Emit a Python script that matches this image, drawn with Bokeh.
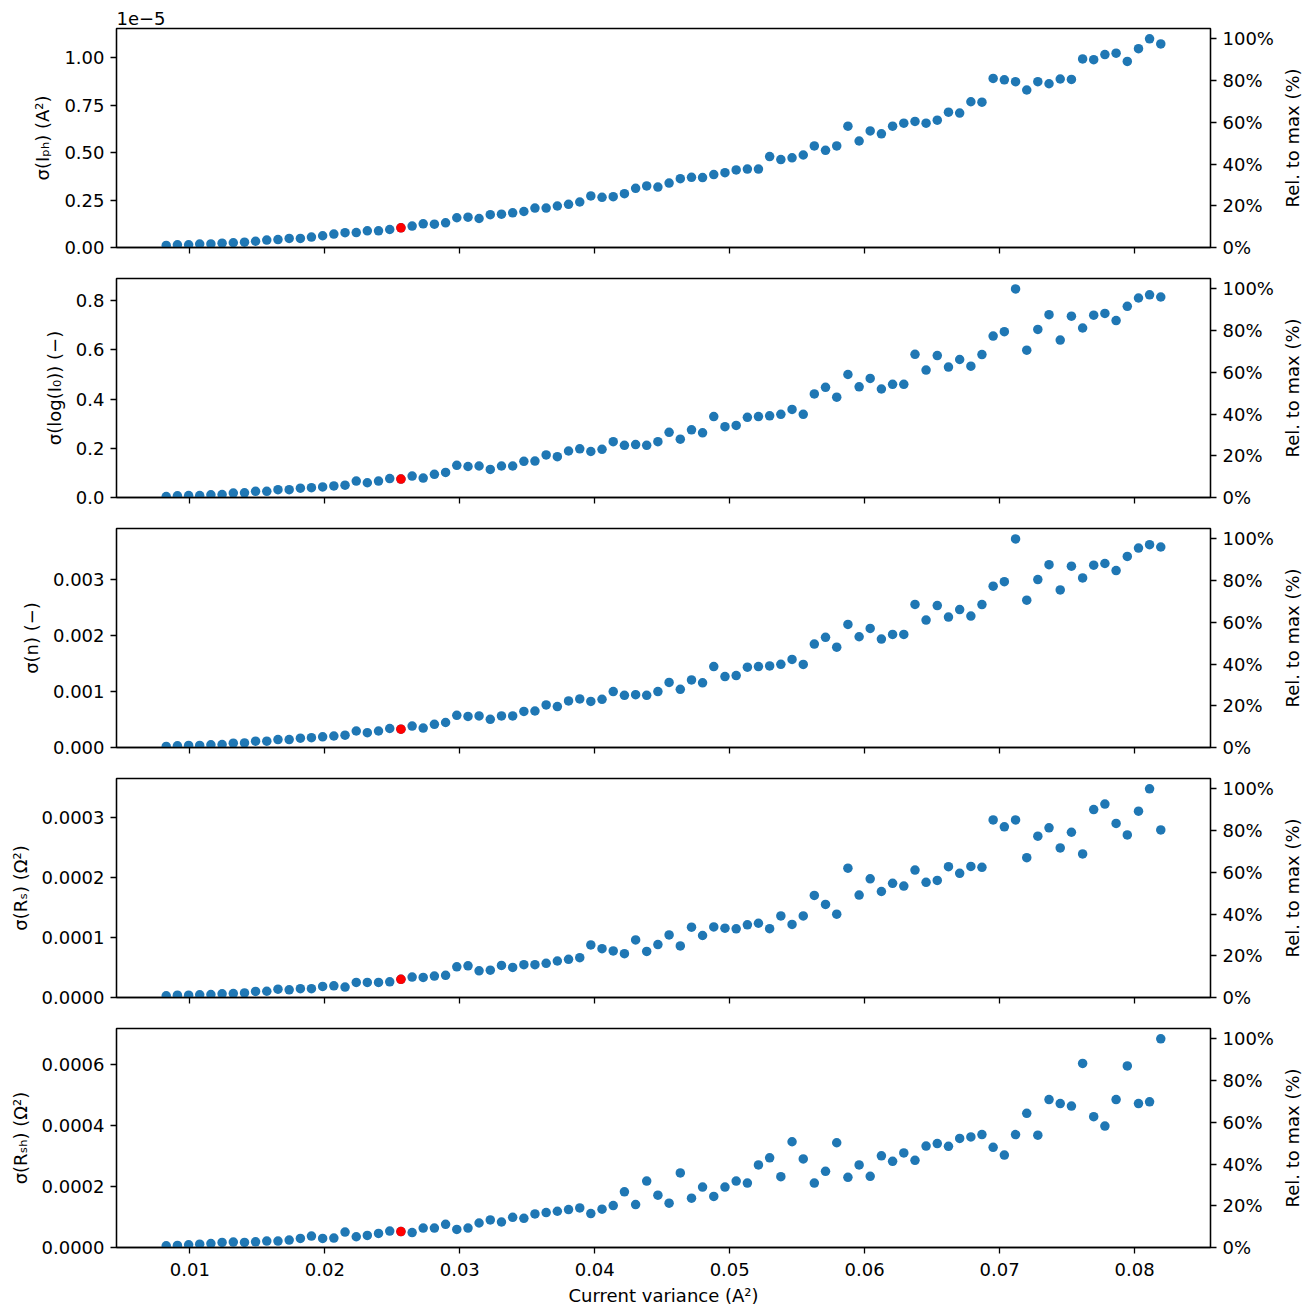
import math
from bokeh.plotting import figure
from bokeh.layouts import column, row
from bokeh.models import (Range1d, LinearAxis, FixedTicker, PrintfTickFormatter,
                          CustomJSTickFormatter, NumeralTickFormatter)
from bokeh.core.properties import value
from bokeh.embed import file_html
from bokeh.resources import INLINE

# ---------------- data ----------------
current_variance = [
    0.00825, 0.00908, 0.00991, 0.01073, 0.01156, 0.01239, 0.01322, 0.01405, 0.01487, 0.01570,
    0.01653, 0.01736, 0.01819, 0.01901, 0.01984, 0.02067, 0.02150, 0.02233, 0.02315, 0.02398,
    0.02481, 0.02564, 0.02647, 0.02729, 0.02812, 0.02895, 0.02978, 0.03061, 0.03143, 0.03226,
    0.03309, 0.03392, 0.03475, 0.03557, 0.03640, 0.03723, 0.03806, 0.03889, 0.03971, 0.04054,
    0.04137, 0.04220, 0.04303, 0.04385, 0.04468, 0.04551, 0.04634, 0.04717, 0.04799, 0.04882,
    0.04965, 0.05048, 0.05131, 0.05213, 0.05296, 0.05379, 0.05462, 0.05545, 0.05627, 0.05710,
    0.05793, 0.05876, 0.05959, 0.06041, 0.06124, 0.06207, 0.06290, 0.06373, 0.06455, 0.06538,
    0.06621, 0.06704, 0.06787, 0.06869, 0.06952, 0.07035, 0.07118, 0.07201, 0.07283, 0.07366,
    0.07449, 0.07532, 0.07615, 0.07697, 0.07780, 0.07863, 0.07946, 0.08029, 0.08111, 0.08194,
]

sigma_iph = [
    0.011e-5, 0.014e-5, 0.014e-5, 0.018e-5, 0.019e-5, 0.023e-5, 0.025e-5, 0.028e-5, 0.033e-5, 0.039e-5,
    0.042e-5, 0.048e-5, 0.048e-5, 0.055e-5, 0.062e-5, 0.071e-5, 0.078e-5, 0.079e-5, 0.088e-5, 0.088e-5,
    0.095e-5, 0.104e-5, 0.113e-5, 0.125e-5, 0.123e-5, 0.130e-5, 0.157e-5, 0.160e-5, 0.153e-5, 0.173e-5,
    0.176e-5, 0.183e-5, 0.190e-5, 0.208e-5, 0.208e-5, 0.219e-5, 0.228e-5, 0.240e-5, 0.272e-5, 0.265e-5,
    0.268e-5, 0.284e-5, 0.312e-5, 0.325e-5, 0.319e-5, 0.340e-5, 0.363e-5, 0.370e-5, 0.369e-5, 0.385e-5,
    0.395e-5, 0.409e-5, 0.414e-5, 0.414e-5, 0.480e-5, 0.464e-5, 0.473e-5, 0.488e-5, 0.536e-5, 0.513e-5,
    0.536e-5, 0.640e-5, 0.562e-5, 0.615e-5, 0.600e-5, 0.640e-5, 0.656e-5, 0.665e-5, 0.656e-5, 0.672e-5,
    0.714e-5, 0.709e-5, 0.769e-5, 0.767e-5, 0.892e-5, 0.885e-5, 0.875e-5, 0.831e-5, 0.875e-5, 0.864e-5,
    0.889e-5, 0.887e-5, 0.995e-5, 0.991e-5, 1.018e-5, 1.025e-5, 0.982e-5, 1.049e-5, 1.101e-5, 1.074e-5,
]

sigma_log_i0 = [
    0.004, 0.007, 0.008, 0.008, 0.011, 0.012, 0.018, 0.019, 0.025, 0.025,
    0.032, 0.032, 0.038, 0.040, 0.043, 0.047, 0.050, 0.067, 0.060, 0.067,
    0.077, 0.075, 0.087, 0.079, 0.094, 0.102, 0.131, 0.126, 0.128, 0.114,
    0.128, 0.128, 0.147, 0.148, 0.173, 0.166, 0.189, 0.198, 0.187, 0.196,
    0.227, 0.212, 0.215, 0.212, 0.227, 0.265, 0.237, 0.275, 0.263, 0.329,
    0.288, 0.293, 0.326, 0.329, 0.332, 0.338, 0.358, 0.338, 0.421, 0.448,
    0.408, 0.500, 0.450, 0.484, 0.441, 0.460, 0.460, 0.582, 0.518, 0.577,
    0.530, 0.561, 0.534, 0.581, 0.656, 0.674, 0.848, 0.599, 0.683, 0.743,
    0.640, 0.737, 0.689, 0.741, 0.748, 0.719, 0.777, 0.811, 0.824, 0.815,
]

sigma_n = [
    0.019e-3, 0.030e-3, 0.037e-3, 0.037e-3, 0.048e-3, 0.052e-3, 0.078e-3, 0.082e-3, 0.112e-3, 0.112e-3,
    0.141e-3, 0.141e-3, 0.167e-3, 0.175e-3, 0.190e-3, 0.205e-3, 0.219e-3, 0.294e-3, 0.264e-3, 0.294e-3,
    0.339e-3, 0.327e-3, 0.383e-3, 0.346e-3, 0.413e-3, 0.446e-3, 0.573e-3, 0.554e-3, 0.562e-3, 0.502e-3,
    0.562e-3, 0.562e-3, 0.644e-3, 0.651e-3, 0.759e-3, 0.729e-3, 0.830e-3, 0.867e-3, 0.822e-3, 0.859e-3,
    0.997e-3, 0.930e-3, 0.941e-3, 0.930e-3, 0.997e-3, 1.161e-3, 1.038e-3, 1.205e-3, 1.153e-3, 1.443e-3,
    1.265e-3, 1.283e-3, 1.432e-3, 1.443e-3, 1.455e-3, 1.484e-3, 1.570e-3, 1.481e-3, 1.845e-3, 1.964e-3,
    1.789e-3, 2.195e-3, 1.975e-3, 2.124e-3, 1.934e-3, 2.016e-3, 2.016e-3, 2.552e-3, 2.273e-3, 2.530e-3,
    2.325e-3, 2.459e-3, 2.344e-3, 2.548e-3, 2.876e-3, 2.957e-3, 3.720e-3, 2.626e-3, 2.995e-3, 3.259e-3,
    2.809e-3, 3.233e-3, 3.024e-3, 3.251e-3, 3.281e-3, 3.155e-3, 3.408e-3, 3.556e-3, 3.616e-3, 3.575e-3,
]

sigma_rs = [
    0.028e-4, 0.038e-4, 0.038e-4, 0.045e-4, 0.049e-4, 0.062e-4, 0.066e-4, 0.076e-4, 0.101e-4, 0.104e-4,
    0.139e-4, 0.128e-4, 0.146e-4, 0.146e-4, 0.184e-4, 0.194e-4, 0.174e-4, 0.250e-4, 0.250e-4, 0.250e-4,
    0.260e-4, 0.302e-4, 0.340e-4, 0.333e-4, 0.357e-4, 0.368e-4, 0.510e-4, 0.527e-4, 0.444e-4, 0.455e-4,
    0.534e-4, 0.500e-4, 0.545e-4, 0.545e-4, 0.569e-4, 0.607e-4, 0.635e-4, 0.663e-4, 0.874e-4, 0.812e-4,
    0.774e-4, 0.729e-4, 0.958e-4, 0.767e-4, 0.881e-4, 1.041e-4, 0.857e-4, 1.169e-4, 1.031e-4, 1.173e-4,
    1.152e-4, 1.142e-4, 1.208e-4, 1.235e-4, 1.145e-4, 1.357e-4, 1.215e-4, 1.357e-4, 1.697e-4, 1.548e-4,
    1.385e-4, 2.151e-4, 1.704e-4, 1.974e-4, 1.763e-4, 1.898e-4, 1.853e-4, 2.120e-4, 1.915e-4, 1.947e-4,
    2.176e-4, 2.065e-4, 2.179e-4, 2.165e-4, 2.953e-4, 2.838e-4, 2.953e-4, 2.325e-4, 2.682e-4, 2.821e-4,
    2.488e-4, 2.748e-4, 2.387e-4, 3.126e-4, 3.217e-4, 2.894e-4, 2.703e-4, 3.099e-4, 3.470e-4, 2.786e-4,
]

sigma_rsh = [
    0.055e-4, 0.066e-4, 0.088e-4, 0.110e-4, 0.130e-4, 0.165e-4, 0.176e-4, 0.165e-4, 0.187e-4, 0.209e-4,
    0.209e-4, 0.242e-4, 0.297e-4, 0.374e-4, 0.297e-4, 0.308e-4, 0.505e-4, 0.352e-4, 0.396e-4, 0.462e-4,
    0.538e-4, 0.520e-4, 0.490e-4, 0.637e-4, 0.637e-4, 0.758e-4, 0.593e-4, 0.637e-4, 0.802e-4, 0.901e-4,
    0.835e-4, 0.989e-4, 0.956e-4, 1.099e-4, 1.143e-4, 1.187e-4, 1.242e-4, 1.297e-4, 1.110e-4, 1.253e-4,
    1.374e-4, 1.824e-4, 1.407e-4, 2.176e-4, 1.714e-4, 1.451e-4, 2.440e-4, 1.615e-4, 1.978e-4, 1.670e-4,
    1.978e-4, 2.176e-4, 2.110e-4, 2.703e-4, 2.934e-4, 2.319e-4, 3.462e-4, 2.901e-4, 2.110e-4, 2.495e-4,
    3.429e-4, 2.297e-4, 2.703e-4, 2.330e-4, 3.000e-4, 2.820e-4, 3.094e-4, 2.855e-4, 3.319e-4, 3.401e-4,
    3.313e-4, 3.572e-4, 3.620e-4, 3.695e-4, 3.278e-4, 3.026e-4, 3.695e-4, 4.392e-4, 3.675e-4, 4.842e-4,
    4.713e-4, 4.631e-4, 6.024e-4, 4.282e-4, 3.975e-4, 4.842e-4, 5.942e-4, 4.713e-4, 4.767e-4, 6.830e-4,
]

highlight_index = 21

y_labels = ["σ(Iₚₕ) (A²)", "σ(log(I₀)) (−)", "σ(n) (−)", "σ(Rₛ) (Ω²)", "σ(Rₛₕ) (Ω²)"]
y_ticks = [
    [0.0, 0.25e-5, 0.5e-5, 0.75e-5, 1.0e-5],
    [0.0, 0.2, 0.4, 0.6, 0.8],
    [0.0, 0.001, 0.002, 0.003],
    [0.0, 0.0001, 0.0002, 0.0003],
    [0.0, 0.0002, 0.0004, 0.0006],
]
x_ticks = [0.01, 0.02, 0.03, 0.04, 0.05, 0.06, 0.07, 0.08]
rel_ticks = [0.0, 0.2, 0.4, 0.6, 0.8, 1.0]
x_title = "Current variance (A²)"
rel_title = "Rel. to max (%)"
offset_text = "1e−5"

series = [sigma_iph, sigma_log_i0, sigma_n, sigma_rs, sigma_rsh]
formatters = [
    CustomJSTickFormatter(code="return (tick * 1e5).toFixed(2);"),
    PrintfTickFormatter(format="%.1f"),
    PrintfTickFormatter(format="%.3f"),
    PrintfTickFormatter(format="%.4f"),
    PrintfTickFormatter(format="%.4f"),
]

# ---------------- styling ----------------
FONT = "DejaVu Sans"
FS = "18px"
BLUE = "#1f77b4"
RED = "#ff0000"
LW = 1.3
FRAME_W, FRAME_H = 1094, 219
BORDER_LEFT, BORDER_RIGHT = 116, 68
SIDE_W = 28

x_lo, x_hi = min(current_variance), max(current_variance)
x_pad = 0.05 * (x_hi - x_lo)
x_range = Range1d(x_lo - x_pad, x_hi + x_pad)


def style_axis(ax):
    ax.axis_line_color = "black"
    ax.axis_line_width = LW
    ax.major_tick_out = 6
    ax.major_tick_in = 0
    ax.major_tick_line_width = LW
    ax.major_tick_line_color = "black"
    ax.minor_tick_line_color = None
    ax.major_label_text_font = FONT
    ax.major_label_text_font_size = FS
    ax.major_label_text_color = "black"
    ax.axis_label_text_font = FONT
    ax.axis_label_text_font_size = FS
    ax.axis_label_text_font_style = "normal"
    ax.axis_label_text_color = "black"


rows = []
n_panels = len(series)
for i, (vals, ylab, ticks, fmt) in enumerate(zip(series, y_labels, y_ticks, formatters)):
    vmax, vmin = max(vals), min(vals)
    y_end = vmax + 0.05 * (vmax - vmin)
    first = (i == 0)
    last = (i == n_panels - 1)
    b_top = 28 if first else 5
    b_bot = 58 if last else 26

    p = figure(
        frame_width=FRAME_W, frame_height=FRAME_H,
        x_range=x_range, y_range=Range1d(0, y_end),
        output_backend="svg", toolbar_location=None, tools="",
        min_border_left=BORDER_LEFT, min_border_right=BORDER_RIGHT,
        min_border_top=b_top, min_border_bottom=b_bot,
    )
    p.background_fill_color = "white"
    p.border_fill_color = "white"
    p.outline_line_color = "black"
    p.outline_line_width = LW
    p.grid.visible = False

    if first:
        p.title.text = offset_text
        p.title.align = "left"
        p.title.text_font = FONT
        p.title.text_font_size = FS
        p.title.text_font_style = "normal"
        p.title.text_color = "black"
        p.title.standoff = 7

    p.extra_y_ranges = {"rel": Range1d(0, y_end / vmax)}
    right = LinearAxis(y_range_name="rel",
                       ticker=FixedTicker(ticks=rel_ticks),
                       formatter=NumeralTickFormatter(format="0%"))
    p.add_layout(right, "right")

    for ax in p.left + p.right + p.below:
        style_axis(ax)

    yax = p.yaxis[0]
    yax.ticker = FixedTicker(ticks=ticks)
    yax.formatter = fmt
    yax.axis_label = ylab
    yax.major_label_standoff = 6
    yax.axis_label_standoff = 8

    right.major_label_standoff = 6

    xax = p.xaxis[0]
    xax.ticker = FixedTicker(ticks=x_ticks)
    if last:
        xax.formatter = PrintfTickFormatter(format="%.2f")
        xax.axis_label = x_title
        xax.major_label_standoff = 9
        xax.axis_label_standoff = 6
    else:
        xax.formatter = CustomJSTickFormatter(code="return '';")
        xax.major_label_text_font_size = "0px"
        xax.major_label_standoff = 0

    p.scatter(x=current_variance, y=vals, size=9.5, fill_color=BLUE, line_color=None)
    p.scatter(x=[current_variance[highlight_index]], y=[vals[highlight_index]],
              size=9.5, fill_color=RED, line_color=None)

    # right-hand axis title, reading bottom-to-top as in the reference
    side = figure(
        frame_width=SIDE_W, frame_height=FRAME_H,
        x_range=Range1d(0, 1), y_range=Range1d(0, 1),
        output_backend="svg", toolbar_location=None, tools="",
        x_axis_location=None, y_axis_location=None,
        min_border_left=0, min_border_right=0,
        min_border_top=b_top, min_border_bottom=b_bot,
    )
    side.outline_line_color = None
    side.grid.visible = False
    side.background_fill_color = "white"
    side.border_fill_color = "white"
    side.text(x=[0.5], y=[0.5], text=[rel_title], angle=math.pi / 2,
              text_align="center", text_baseline="middle",
              text_font=value(FONT), text_font_size=value(FS), text_color="black")

    rows.append(row(p, side))

layout = column(*rows)
open("out.html", "w").write(file_html(layout, INLINE))
